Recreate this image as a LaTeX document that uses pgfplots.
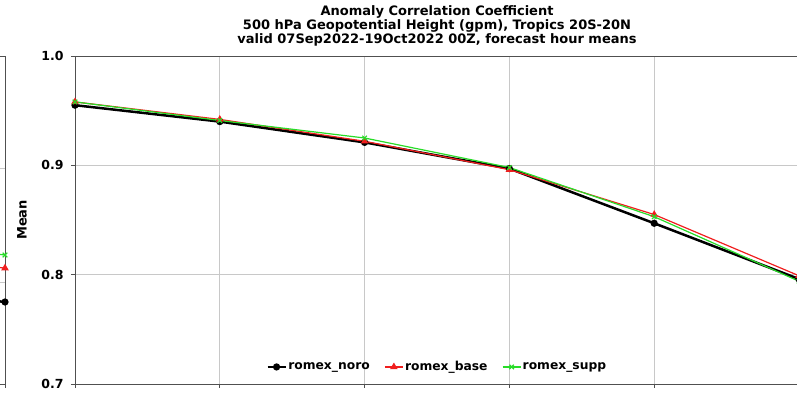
\documentclass[border=0pt]{standalone}
\usepackage{pgfplots}
\pgfplotsset{compat=1.18}
\usepackage{fontspec}
\setmainfont{DejaVu Sans}
\definecolor{gridc}{RGB}{200,200,200}
\definecolor{axc}{RGB}{80,80,80}
\definecolor{myred}{RGB}{240,30,30}
\definecolor{mygreen}{RGB}{40,220,40}
\pgfplotsset{
  panel/.style={
    scale only axis, width=724pt, height=328pt,
    xmin=0, xmax=5, ymin=0.7, ymax=1.0,
    grid=major, grid style={gridc, line width=0.7pt},
    axis line style={axc, line width=0.8pt},
    tick style={axc, line width=0.8pt},
    tick align=outside, major tick length=4pt,
    ytick pos=left, xtick pos=bottom,
    xtick={0,1,2,3,4,5}, xticklabels={},
    /pgf/number format/assume math mode=true,
    ticklabel style={font=\fontsize{12.5}{14}\selectfont\bfseries},
    yticklabel style={xshift=-4pt, /pgf/number format/.cd, fixed, fixed zerofill, precision=1},
  },
}
\begin{document}
\begin{tikzpicture}
\useasboundingbox (0,0) rectangle (797pt,398pt);
\clip (0,0) rectangle (797pt,398pt);
% fragment of the previous panel on the left
\begin{axis}[panel, at={(5pt,14pt)}, anchor=south east,
  ytick={0.7932,0.8975}, yticklabels={}]
\addplot[black, line width=2.5pt, mark=*, mark size=2.3pt] coordinates {(4,0.790) (5,0.775)};
\addplot[myred, line width=1.2pt, mark=triangle*, mark size=3.2pt] coordinates {(4,0.820) (5,0.806)};
\addplot[mygreen, line width=1.2pt, mark=x, mark size=3.2pt] coordinates {(4,0.832) (5,0.818)};
\end{axis}
% main panel
\begin{axis}[panel, at={(75pt,14pt)}, anchor=south west,
  ytick={0.7,0.8,0.9,1.0},
  title={Anomaly Correlation Coefficient\\500 hPa Geopotential Height (gpm), Tropics 20S-20N\\valid 07Sep2022-19Oct2022 00Z, forecast hour means},
  title style={at={(0.5,1)}, anchor=south, yshift=0pt, align=center, font=\fontsize{13}{14}\selectfont\bfseries},
  ylabel={Mean},
  ylabel style={at={(axis description cs:-0.0732,0.5)}, anchor=center, font=\fontsize{13}{14}\selectfont\bfseries},
  legend style={at={(0.5,0.052)}, anchor=center, draw=none, fill=none,
    legend columns=3, font=\fontsize{12.3}{14}\selectfont\bfseries,
    /tikz/every even column/.append style={column sep=13pt},
    nodes={inner xsep=1.5pt}},
  legend image code/.code={
    \draw[mark repeat=2, mark phase=2, #1] plot coordinates {(0pt,0pt) (9pt,0pt) (18pt,0pt)};
  },
]
\addplot[black, line width=2.5pt, mark=*, mark size=2.3pt] coordinates {
 (0,0.955) (1,0.940) (2,0.921) (3,0.897) (4,0.847) (5,0.796)};
\addlegendentry{romex\_noro}
\addplot[myred, line width=1.2pt, mark=triangle*, mark size=3.2pt] coordinates {
 (0,0.958) (1,0.942) (2,0.922) (3,0.896) (4,0.855) (5,0.799)};
\addlegendentry{romex\_base}
\addplot[mygreen, line width=1.2pt, mark=x, mark size=3.2pt] coordinates {
 (0,0.958) (1,0.941) (2,0.925) (3,0.898) (4,0.853) (5,0.794)};
\addlegendentry{romex\_supp}
\end{axis}
\end{tikzpicture}
\end{document}
